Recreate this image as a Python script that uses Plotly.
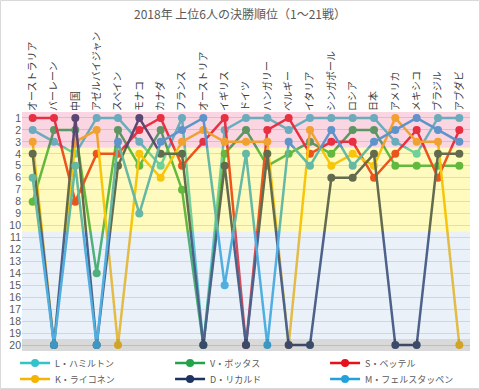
import plotly.graph_objects as go

races = ["オーストラリア", "バーレーン", "中国", "アゼルバイジャン", "スペイン", "モナコ",
         "カナダ", "フランス", "オーストリア", "イギリス", "ドイツ", "ハンガリー", "ベルギー",
         "イタリア", "シンガポール", "ロシア", "日本", "アメリカ", "メキシコ", "ブラジル", "アブダビ"]

hamilton = [2, 3, 4, 1, 1, 3, 5, 1, 20, 2, 1, 1, 2, 1, 1, 1, 1, 3, 4, 1, 1]
bottas = [8, 2, 2, 14, 2, 5, 2, 7, 20, 4, 2, 5, 4, 3, 4, 2, 2, 5, 5, 5, 5]
vettel = [1, 1, 8, 4, 4, 2, 1, 5, 3, 1, 20, 2, 1, 4, 3, 3, 6, 4, 2, 6, 2]
raikkonen = [3, 20, 3, 2, 20, 4, 6, 3, 2, 3, 3, 3, 20, 2, 5, 4, 5, 1, 3, 3, 20]
ricciardo = [4, 20, 1, 20, 5, 1, 4, 4, 20, 5, 20, 4, 20, 20, 6, 6, 4, 20, 20, 4, 4]
verstappen = [6, 20, 5, 20, 3, 9, 3, 2, 1, 15, 4, 20, 3, 5, 2, 5, 3, 2, 1, 2, 3]

names = ["L・ハミルトン", "V・ボッタス", "S・ベッテル", "K・ライコネン", "D・リカルド", "M・フェルスタッペン"]
series = [hamilton, bottas, vettel, raikkonen, ricciardo, verstappen]
colors = ["#33c3c9", "#20a34a", "#e5121b", "#f4b400", "#1f3361", "#22a1dc"]
legend_rows = ["legend", "legend", "legend", "legend2", "legend2", "legend2"]

ticks = list(range(1, 21))

# bands: (top, bottom, translucent colour laid over the lines)
bands = [(0.5, 3.5, "rgba(235,118,158,0.3)"),
         (3.5, 10.5, "rgba(255,238,35,0.3)"),
         (10.5, 19.5, "rgba(185,208,235,0.3)"),
         (19.5, 20.5, "rgba(128,128,128,0.3)")]

fig = go.Figure()
for n, s, c, lg in zip(names, series, colors, legend_rows):
    fig.add_trace(go.Scatter(x=races, y=s, name=n, mode="lines+markers", legend=lg,
                             line=dict(color=c, width=2.5), marker=dict(color=c, size=8)))

for y0, y1, c in bands:
    fig.add_shape(type="rect", xref="paper", yref="y", x0=0, x1=1, y0=y0, y1=y1,
                  fillcolor=c, line=dict(width=0), layer="above")

W, H = 480, 389
ml, mr, mt, mb = 22, 10, 112, 38
pw, ph = W - ml - mr, H - mt - mb
fig.add_shape(type="rect", xref="paper", yref="paper",
              x0=(0.5 - ml) / pw, x1=(W - 0.5 - ml) / pw,
              y0=-(mb - 0.5) / ph, y1=1 + (mt - 0.5) / ph,
              line=dict(color="#d9d9d9", width=1), layer="below")

legend_common = dict(orientation="h", x=-0.0155, xanchor="left", yanchor="middle",
                     entrywidth=110, entrywidthmode="pixels",
                     font=dict(size=9, color="#595959"), bgcolor="rgba(0,0,0,0)")

fig.update_layout(
    width=W, height=H,
    margin=dict(l=ml, r=mr, t=mt, b=mb, autoexpand=False),
    paper_bgcolor="white", plot_bgcolor="white",
    font=dict(family="Noto Sans CJK JP", color="#595959"),
    title=dict(text="2018年 上位6人の決勝順位（1～21戦）", x=0.5, xanchor="center",
               y=1 - 15 / H, yanchor="middle", yref="container",
               font=dict(size=12, color="#595959")),
    xaxis=dict(type="category", side="top", tickangle=-90, range=[-0.5, 20.5],
               showgrid=False, ticks="", showline=False, zeroline=False, automargin=False,
               tickfont=dict(size=10, color="#404040")),
    yaxis=dict(range=[20.5, 0.5], tickvals=ticks, ticktext=[str(t) for t in ticks],
               gridcolor="#d9d9d9", gridwidth=1, zeroline=False, showline=False, automargin=False,
               tickfont=dict(family="Liberation Sans", size=10.5, color="#595959")),
    legend=dict(y=-(363 - (H - mb)) / ph, **legend_common),
    legend2=dict(y=-(379 - (H - mb)) / ph, **legend_common),
    showlegend=True,
)

fig.write_html("out.html", config={"displayModeBar": False},
               post_script="document.body.style.margin='0';")
